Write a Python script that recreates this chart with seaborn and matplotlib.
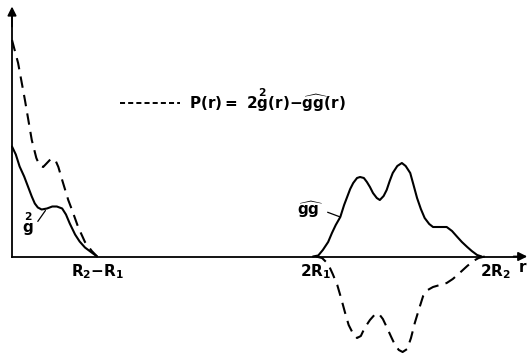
import matplotlib
matplotlib.use('Agg')
import matplotlib.pyplot as plt
import matplotlib.transforms as mtransforms
from matplotlib.lines import Line2D
import seaborn as sns

# r axis: R1 = 2, R2 = 3.12  (so R2-R1 = 1.12, 2R1 = 4.0, 2R2 = 6.24)
# solid curve on the left: g^2(r)
g2_r = [0.00, 0.05, 0.10, 0.16, 0.21, 0.26, 0.30, 0.34, 0.39, 0.46,
        0.53, 0.59, 0.66, 0.71, 0.76, 0.83, 0.89, 0.96, 1.03, 1.12]
g2 = [1.10, 1.02, 0.90, 0.80, 0.70, 0.60, 0.53, 0.49, 0.47, 0.48,
      0.50, 0.50, 0.48, 0.42, 0.33, 0.22, 0.15, 0.09, 0.05, 0.00]

# solid curve on the right: gg(r)
gg_r = [3.96, 4.03, 4.09, 4.16, 4.21, 4.26, 4.32, 4.37, 4.41, 4.45,
        4.49, 4.54, 4.58, 4.63, 4.67, 4.71, 4.75, 4.80, 4.84, 4.89,
        4.93, 4.97, 5.01, 5.07, 5.13, 5.18, 5.24, 5.28, 5.33, 5.38,
        5.43, 5.49, 5.54, 5.63, 5.72, 5.79, 5.86, 5.92, 5.99, 6.05,
        6.12, 6.18]
gg = [0.00, 0.01, 0.065, 0.145, 0.235, 0.315, 0.395, 0.515, 0.595, 0.675,
      0.735, 0.785, 0.795, 0.785, 0.745, 0.695, 0.635, 0.585, 0.565, 0.605,
      0.665, 0.755, 0.835, 0.905, 0.935, 0.905, 0.835, 0.725, 0.585, 0.475,
      0.385, 0.325, 0.295, 0.295, 0.295, 0.255, 0.195, 0.145, 0.095, 0.055,
      0.015, 0.00]

# dashed curve: P(r) = 2 g^2(r) - gg(r), zero in between the two parts
p_left_r = [0.00, 0.08, 0.17, 0.26, 0.32, 0.36, 0.41, 0.46, 0.51, 0.57,
            0.61, 0.66, 0.70, 0.74, 0.79, 0.87, 0.96, 1.05, 1.12]
p_left = [2.165, 1.935, 1.565, 1.165, 0.985, 0.915, 0.895, 0.935, 0.975, 0.965,
          0.895, 0.765, 0.665, 0.565, 0.465, 0.295, 0.145, 0.055, 0.00]
p_right_r = [4.00, 4.08, 4.16, 4.22, 4.28, 4.33, 4.38, 4.43, 4.49, 4.54,
             4.59, 4.64, 4.71, 4.78, 4.83, 4.88, 4.93, 4.99, 5.04, 5.09,
             5.14, 5.20, 5.25, 5.30, 5.36, 5.41, 5.47, 5.54, 5.63, 5.72,
             5.80, 5.89, 5.99, 6.07, 6.14, 6.22]
p_right = [0.00, -0.015, -0.075, -0.175, -0.285, -0.415, -0.555, -0.685, -0.775, -0.815,
           -0.795, -0.715, -0.635, -0.575, -0.575, -0.625, -0.705, -0.805, -0.885, -0.935,
           -0.955, -0.925, -0.815, -0.665, -0.515, -0.395, -0.335, -0.305, -0.285, -0.265,
           -0.225, -0.165, -0.095, -0.045, -0.015, 0.00]

tick_pos = [1.12, 4.0, 6.24]
tick_lbl = [r'$R_2{-}R_1$', r'$2R_1$', r'$2R_2$']
legend_lbl = r'$P(r){=}\ 2\overset{2}{g}(r){-}\widehat{gg}(r)$'

sns.set_style('white')
plt.rcParams['font.family'] = ['DejaVu Sans']
plt.rcParams['text.color'] = 'black'
plt.rcParams['xtick.color'] = 'black'
plt.rcParams['mathtext.fontset'] = 'custom'
plt.rcParams['mathtext.rm'] = 'DejaVu Sans:bold'
plt.rcParams['mathtext.it'] = 'DejaVu Sans:bold'
plt.rcParams['mathtext.bf'] = 'DejaVu Sans:bold'
plt.rcParams['mathtext.default'] = 'rm'
plt.rcParams['lines.solid_joinstyle'] = 'round'
plt.rcParams['lines.dash_joinstyle'] = 'round'

fig = plt.figure(figsize=(5.29, 3.56), dpi=100)
ax = fig.add_axes([0, 0, 1, 1])
ax.set_xlim(-0.158, 6.803)
ax.set_ylim(-0.995, 2.565)

sns.lineplot(x=g2_r, y=g2, sort=False, estimator=None, color='black', lw=1.5, ax=ax)
sns.lineplot(x=gg_r, y=gg, sort=False, estimator=None, color='black', lw=1.5, ax=ax)
sns.lineplot(x=p_left_r, y=p_left, sort=False, estimator=None, color='black', lw=1.5, ax=ax)
ax.lines[-1].set_dashes((5.5, 3.5))
sns.lineplot(x=p_right_r, y=p_right, sort=False, estimator=None, color='black', lw=1.5, ax=ax)
ax.lines[-1].set_dashes((5.5, 3.5))

# axes drawn as arrows through the origin
for side in ['top', 'right']:
    ax.spines[side].set_visible(False)
ax.spines['bottom'].set_position(('data', 0))
ax.spines['left'].set_position(('data', 0))
ax.spines['bottom'].set_bounds(0, 6.72)
ax.spines['left'].set_bounds(0, 2.44)
for side in ['bottom', 'left']:
    ax.spines[side].set_linewidth(1.3)
    ax.spines[side].set_color('black')
arr = dict(arrowstyle='-|>', color='black', lw=1.3, mutation_scale=13, shrinkA=0, shrinkB=0)
ax.annotate('', xy=(6.78, 0), xytext=(6.6, 0), arrowprops=arr)
ax.annotate('', xy=(0, 2.50), xytext=(0, 2.3), arrowprops=arr)

ax.set_yticks([])
ax.set_xticks(tick_pos)
ax.set_xticklabels(tick_lbl, fontsize=11)
ax.tick_params(axis='x', direction='inout', length=5, width=1, pad=2, color='black')
lbl = ax.get_xticklabels()[2]
lbl.set_transform(lbl.get_transform() + mtransforms.ScaledTranslation(0.09, 0, fig.dpi_scale_trans))
ax.text(6.72, -0.11, 'r', fontsize=11, fontweight='bold', ha='center', va='center')

# curve labels
ax.annotate(r'$\overset{2}{g}$', xy=(0.44, 0.46), xytext=(0.21, 0.32), fontsize=11,
            ha='center', va='center',
            arrowprops=dict(arrowstyle='-', color='black', lw=0.9, relpos=(1, 0.4),
                            shrinkA=1, shrinkB=0))
ax.annotate(r'$\widehat{gg}$', xy=(4.32, 0.395), xytext=(3.92, 0.47), fontsize=11,
            ha='center', va='center',
            arrowprops=dict(arrowstyle='-', color='black', lw=0.9, relpos=(1, 0.45),
                            shrinkA=1, shrinkB=0))

handle = Line2D([], [], color='black', lw=1.4, dashes=(2.6, 1.6))
ax.legend([handle], [legend_lbl], loc='center left', bbox_to_anchor=(120 / 529, 256 / 356),
          frameon=False, fontsize=11, handlelength=3.9, handletextpad=0.6,
          borderpad=0, borderaxespad=0)

plt.savefig('out.png', dpi=100)
